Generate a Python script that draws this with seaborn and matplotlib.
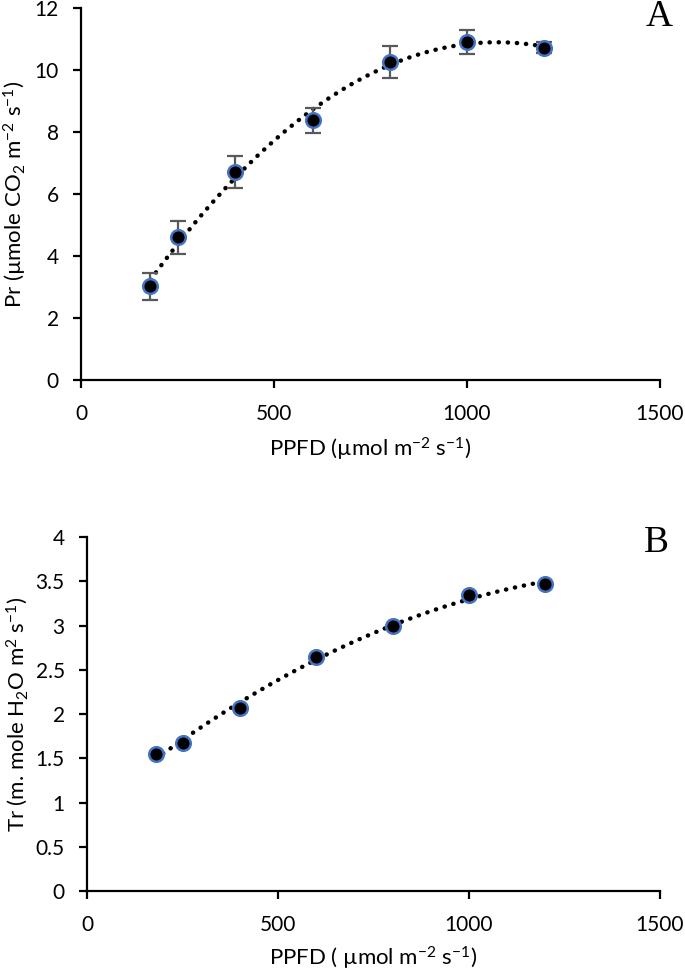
import numpy as np
import pandas as pd
import matplotlib
matplotlib.use("Agg")
import matplotlib.pyplot as plt
import seaborn as sns

# data
ppfd = [180, 250, 400, 600, 800, 1000, 1200]
pr = [3.02, 4.6, 6.72, 8.38, 10.27, 10.9, 10.72]
pr_err = [0.43, 0.52, 0.52, 0.4, 0.52, 0.4, 0.17]
tr = [1.55, 1.67, 2.07, 2.64, 3.0, 3.34, 3.47]

x_ticks = [0, 500, 1000, 1500]
pr_ticks = [0, 2, 4, 6, 8, 10, 12]
tr_ticks = [0, 0.5, 1, 1.5, 2, 2.5, 3, 3.5, 4]
tr_labels = ["0", "0.5", "1", "1.5", "2", "2.5", "3", "3.5", "4"]

df = pd.DataFrame({"ppfd": ppfd, "pr": pr, "pr_err": pr_err, "tr": tr})

sns.set_style("ticks")
plt.rcParams["font.family"] = ["Lato", "DejaVu Sans"]
plt.rcParams["mathtext.fontset"] = "custom"
plt.rcParams["mathtext.rm"] = "Lato"
plt.rcParams["mathtext.it"] = "Lato"
plt.rcParams["mathtext.default"] = "rm"
plt.rcParams["text.color"] = "black"
plt.rcParams["axes.labelcolor"] = "black"
plt.rcParams["xtick.color"] = "black"
plt.rcParams["ytick.color"] = "black"

fig = plt.figure(figsize=(6.85, 9.71), dpi=100)
ax_a = fig.add_axes([81 / 685, 1 - 380 / 971, 579 / 685, 372 / 971])
ax_b = fig.add_axes([87 / 685, 1 - 891 / 971, 573 / 685, 354 / 971])

dot_line = dict(color="black", lw=3.2, linestyle=(0, (0.05, 2.0)),
                dash_capstyle="round")
marker_kw = dict(color="black", edgecolor="#4472C4", linewidth=1.8, s=110, zorder=4)

# panel A
ax_a.errorbar(df["ppfd"], df["pr"], yerr=df["pr_err"], fmt="none",
              ecolor="#595959", elinewidth=1.6, capsize=6, capthick=1.6, zorder=3)
sns.regplot(data=df, x="ppfd", y="pr", order=2, ci=None, scatter=False,
            truncate=True, line_kws=dot_line, ax=ax_a)
sns.scatterplot(data=df, x="ppfd", y="pr", ax=ax_a, legend=False, **marker_kw)
ax_a.set_xlim(0, 1500)
ax_a.set_ylim(0, 12)
ax_a.set_xticks(x_ticks)
ax_a.set_yticks(pr_ticks)
ax_a.set_xlabel("PPFD (µmol m$^{-2}$ s$^{-1}$)", fontsize=16, labelpad=9)
ax_a.set_ylabel("Pr (µmole CO$_2$ m$^{-2}$ s$^{-1}$)", fontsize=16, labelpad=4)
ax_a.text(1.0225, 0.9516, "A", transform=ax_a.transAxes, ha="right", va="baseline",
          fontsize=27, family="Liberation Serif")

# panel B
sns.regplot(data=df, x="ppfd", y="tr", order=2, ci=None, scatter=False,
            truncate=True, line_kws=dot_line, ax=ax_b)
sns.scatterplot(data=df, x="ppfd", y="tr", ax=ax_b, legend=False, **marker_kw)
ax_b.set_xlim(0, 1500)
ax_b.set_ylim(0, 4)
ax_b.set_xticks(x_ticks)
ax_b.set_yticks(tr_ticks)
ax_b.set_yticklabels(tr_labels)
ax_b.set_xlabel("PPFD ( µmol m$^{-2}$ s$^{-1}$)", fontsize=16, labelpad=7)
ax_b.set_ylabel("Tr (m. mole H$_2$O m$^2$ s$^{-1}$)", fontsize=16, labelpad=4)
ax_b.text(1.0157, 0.9576, "B", transform=ax_b.transAxes, ha="right", va="baseline",
          fontsize=27, family="Liberation Serif")

for ax in (ax_a, ax_b):
    sns.despine(ax=ax)
    ax.spines["left"].set_linewidth(1.6)
    ax.spines["bottom"].set_linewidth(1.6)
    ax.spines["left"].set_color("black")
    ax.spines["bottom"].set_color("black")
    ax.tick_params(axis="both", labelsize=15, width=1.6, length=6,
                   direction="out")
    ax.tick_params(axis="x", pad=11)
    ax.tick_params(axis="y", pad=10)

fig.savefig("out.png", dpi=100)
